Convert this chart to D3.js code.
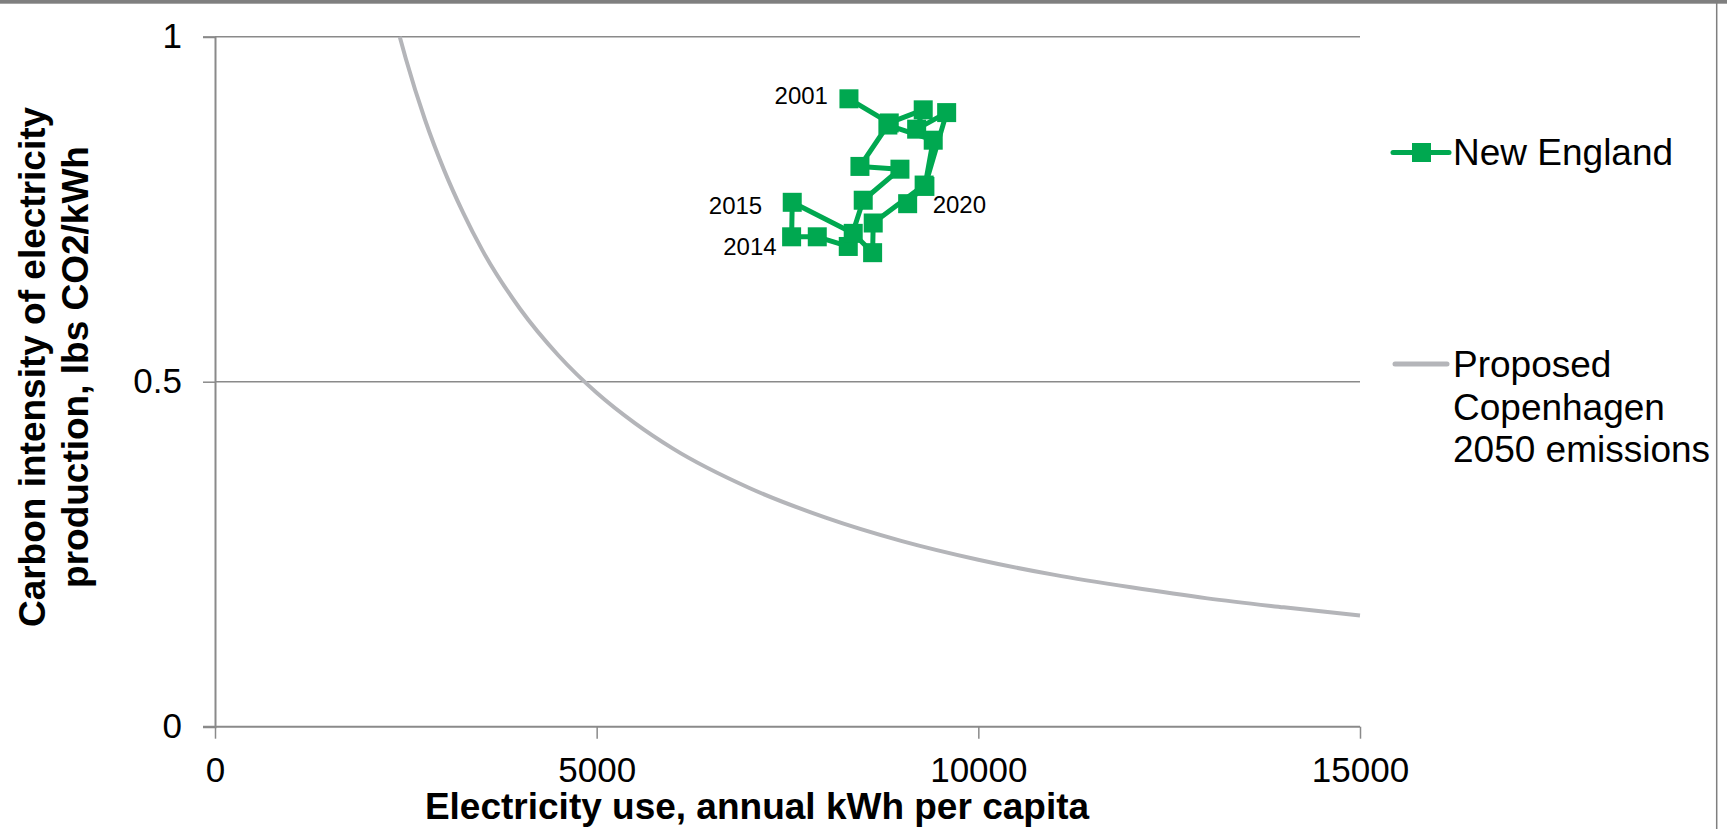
<!DOCTYPE html>
<html>
<head>
<meta charset="utf-8">
<script src="https://cdn.jsdelivr.net/npm/d3@7"></script>
<style>
  html, body { margin: 0; padding: 0; background: #fff; }
  svg { display: block; font-family: "Liberation Sans", Arial, sans-serif; }
</style>
</head>
<body>
<svg id="chart" width="1727" height="829"></svg>
<script>
// New England: annual electricity use per capita vs. carbon intensity, 2001-2020
const years = [2001, 2002, 2003, 2004, 2005, 2006, 2007, 2008, 2009, 2010,
               2011, 2012, 2013, 2014, 2015, 2016, 2017, 2018, 2019, 2020];
const usageKWh = [8305, 8833, 9278, 9192, 9585, 9300, 9409, 8815, 8449, 8973,
                  8492, 8296, 7890, 7554, 7562, 8361, 8615, 8623, 9290, 9074];
const intensityLbs = [0.910, 0.875, 0.894, 0.866, 0.890, 0.783, 0.850, 0.872, 0.812, 0.808,
                      0.763, 0.696, 0.710, 0.710, 0.760, 0.715, 0.687, 0.730, 0.785, 0.758];

// Proposed Copenhagen 2050 emissions curve
const targetUsageKWh = [2420, 2500, 2750, 3000, 3250, 3500, 4000, 4500, 5000, 5500, 6000, 7000,
                        8000, 9000, 10000, 11000, 12000, 13000, 14000, 15000];
const targetIntensityLbs = [1.000, 0.968, 0.880, 0.807, 0.745, 0.691, 0.605, 0.538, 0.484, 0.440, 0.403, 0.346,
                            0.303, 0.269, 0.242, 0.220, 0.202, 0.186, 0.173, 0.161];

const xTicks = [0, 5000, 10000, 15000];
const yTicks = [0, 0.5, 1];
const labeledYears = [2001, 2014, 2015, 2020];
const seriesNames = ["New England", "Proposed Copenhagen 2050 emissions"];

const GREEN = "#00a850";
const CURVE = "#b4b5b9";
const AXIS = "#8a8a8a";

const svg = d3.select("#chart");
const plot = { left: 215, right: 1360, top: 36.7, bottom: 726.7 };

const x = d3.scaleLinear().domain([0, 15000]).range([plot.left, plot.right]);
const y = d3.scaleLinear().domain([0, 1]).range([plot.bottom, plot.top]);

// frame
svg.append("rect").attr("x", 0).attr("y", 0).attr("width", 1727).attr("height", 3.7).attr("fill", "#7f7f7f");
svg.append("line").attr("x1", 1716.7).attr("x2", 1716.7).attr("y1", 0).attr("y2", 829)
  .attr("stroke", "#7f7f7f").attr("stroke-width", 1.5);

// horizontal gridlines
svg.append("g").selectAll("line").data(yTicks.filter(d => d > 0)).join("line")
  .attr("x1", plot.left).attr("x2", plot.right)
  .attr("y1", d => y(d)).attr("y2", d => y(d))
  .attr("stroke", AXIS).attr("stroke-width", 1.5);

// axes
const xAxis = svg.append("g").attr("transform", `translate(0,${plot.bottom})`)
  .call(d3.axisBottom(x).tickValues(xTicks).tickFormat(d => String(d)).tickSize(12).tickPadding(18));
const yAxis = svg.append("g").attr("transform", `translate(${plot.left},0)`)
  .call(d3.axisLeft(y).tickValues(yTicks).tickFormat(d => String(d)).tickSize(12).tickPadding(21));
[xAxis, yAxis].forEach(g => {
  g.select(".domain").attr("stroke", AXIS).attr("stroke-width", 2);
  g.selectAll(".tick line").attr("stroke", AXIS).attr("stroke-width", 1.5);
  g.selectAll(".tick text").attr("fill", "#000").attr("font-size", 35)
    .attr("font-family", "Liberation Sans, Arial, sans-serif");
});
// x axis line spans from the left tick stub to the right end
xAxis.select(".domain").attr("d", `M${plot.left - 12 - 0},0H${plot.right}`);

// axis titles
svg.append("text")
  .attr("x", 757).attr("y", 819)
  .attr("text-anchor", "middle").attr("font-size", 37).attr("font-weight", "bold")
  .text("Electricity use, annual kWh per capita");

const yTitle = svg.append("text")
  .attr("transform", "translate(45,367) rotate(-90)")
  .attr("text-anchor", "middle").attr("font-size", 37).attr("font-weight", "bold");
yTitle.append("tspan").attr("x", 0).attr("y", 0).text("Carbon intensity of electricity");
yTitle.append("tspan").attr("x", 0).attr("y", 43).text("production, lbs CO2/kWh");

// clip for plot area
svg.append("defs").append("clipPath").attr("id", "plotClip")
  .append("rect").attr("x", plot.left).attr("y", plot.top - 2)
  .attr("width", plot.right - plot.left + 4).attr("height", plot.bottom - plot.top + 2);

// target curve
const target = targetUsageKWh.map((u, i) => ({ u, c: targetIntensityLbs[i] }));
svg.append("path").datum(target)
  .attr("clip-path", "url(#plotClip)")
  .attr("fill", "none").attr("stroke", CURVE).attr("stroke-width", 4)
  .attr("d", d3.line().x(d => x(d.u)).y(d => y(d.c)).curve(d3.curveMonotoneX));

// New England series
const ne = years.map((yr, i) => ({ yr, u: usageKWh[i], c: intensityLbs[i] }));
svg.append("path").datum(ne)
  .attr("fill", "none").attr("stroke", GREEN).attr("stroke-width", 5).attr("stroke-linejoin", "round")
  .attr("d", d3.line().x(d => x(d.u)).y(d => y(d.c)));
const MS = 19;
svg.append("g").selectAll("rect").data(ne).join("rect")
  .attr("x", d => x(d.u) - MS / 2).attr("y", d => y(d.c) - MS / 2)
  .attr("width", MS).attr("height", MS).attr("fill", GREEN);

// year labels beside selected points
const labelPlacement = {
  2001: { dx: -21, dy: -3, anchor: "end" },
  2014: { dx: -15, dy: 10, anchor: "end" },
  2015: { dx: -30, dy: 3, anchor: "end" },
  2020: { dx: 25, dy: 1, anchor: "start" }
};
svg.append("g").selectAll("text").data(ne.filter(d => labeledYears.includes(d.yr))).join("text")
  .attr("x", d => x(d.u) + labelPlacement[d.yr].dx)
  .attr("y", d => y(d.c) + labelPlacement[d.yr].dy)
  .attr("dy", "0.35em")
  .attr("text-anchor", d => labelPlacement[d.yr].anchor)
  .attr("font-size", 24)
  .text(d => d.yr);

// legend
const lg = svg.append("g");
lg.append("line").attr("x1", 1393).attr("x2", 1449).attr("y1", 152.5).attr("y2", 152.5)
  .attr("stroke", GREEN).attr("stroke-width", 5).attr("stroke-linecap", "round");
lg.append("rect").attr("x", 1412).attr("y", 143).attr("width", 19).attr("height", 19).attr("fill", GREEN);
lg.append("text").attr("x", 1453).attr("y", 165).attr("font-size", 37).text(seriesNames[0]);

lg.append("line").attr("x1", 1395).attr("x2", 1447).attr("y1", 364).attr("y2", 364)
  .attr("stroke", CURVE).attr("stroke-width", 5).attr("stroke-linecap", "round");
const lt = lg.append("text").attr("font-size", 37);
["Proposed", "Copenhagen", "2050 emissions"].forEach((w, i) => {
  lt.append("tspan").attr("x", 1453).attr("y", 377 + i * 42.5).text(w);
});
</script>
</body>
</html>
